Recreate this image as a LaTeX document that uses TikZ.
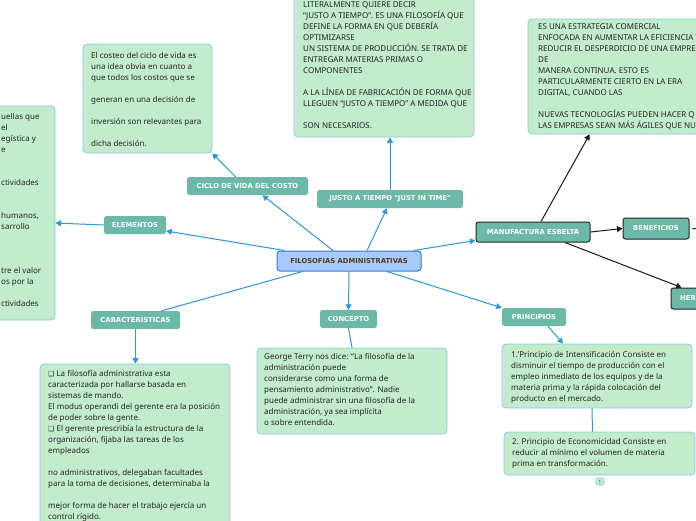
\documentclass[tikz,border=0pt]{standalone}
\usepackage{fontspec}
\setmainfont{Noto Sans}
\newfontfamily\lblfont{DejaVu Sans}
\newfontfamily\symfont{DejaVu Sans}
\usetikzlibrary{arrows.meta,calc}
\definecolor{tealfill}{RGB}{107,185,166}
\definecolor{cardfill}{RGB}{194,236,204}
\definecolor{cardline}{RGB}{140,200,232}
\definecolor{connblue}{RGB}{40,150,225}
\definecolor{centralfill}{RGB}{168,202,250}
\definecolor{centralline}{RGB}{50,120,220}
\definecolor{browntext}{RGB}{90,55,25}
\definecolor{bodytext}{RGB}{35,35,35}
\newcommand{\firststrut}{\rule{0pt}{9pt}}
\newcommand{\boxsym}{{\symfont\fontsize{7}{11}\selectfont ❑}}
\begin{document}
\begin{tikzpicture}[x=1pt,y=-1pt,
  lbl/.style={fill=tealfill, rounded corners=2.5pt, text=white, font=\lblfont\bfseries\fontsize{6.8}{8}\selectfont, inner sep=0pt},
  darklbl/.style={lbl, draw=black!85, line width=1pt},
  card/.style={fill=cardfill, draw=cardline, line width=0.8pt, rounded corners=4pt, inner sep=0pt},
  body/.style={anchor=north west, inner sep=0pt, align=left, font=\fontsize{8}{11}\selectfont, text=bodytext},
  conn/.style={draw=connblue, line width=1pt, -{Triangle[length=5.5pt,width=6pt]}},
  connplain/.style={draw=connblue, line width=1pt},
  bconn/.style={draw=black!90, line width=1pt, -{Triangle[length=5.5pt,width=6pt]}},
]
\useasboundingbox (0,0) rectangle (696,520);
\fill[white] (0,0) rectangle (696,520);

% cards
\node[card, minimum width=129pt, minimum height=109pt] (tl) at (147.5,98.5) {};
\node[card, minimum width=65pt, minimum height=214pt] (lb) at (22.5,213) {};
\node[card, minimum width=180pt, minimum height=147pt] (tc) at (384,63.5) {};
\node[card, minimum width=182pt, minimum height=115pt] (tr) at (619,76.5) {};
\node[card, minimum width=190pt, minimum height=166pt] (bl) at (135,447) {};
\node[card, minimum width=190pt, minimum height=86pt] (bc) at (352,391) {};
\node[card, minimum width=190pt, minimum height=64pt] (p1) at (597,376) {};
\node[card, minimum width=191pt, minimum height=43pt] (p2) at (599.5,453.5) {};
\node[card, rounded corners=1.5pt, line width=0.6pt, minimum width=8pt, minimum height=7pt, font=\fontsize{4.5}{5}\selectfont, text=black!70] (badge) at (600,481.5) {1};

% card texts
\node[body] (tltxt) at (91,49.5) {\firststrut El costeo del ciclo de vida es\\
una idea obvia en cuanto a\\
que todos los costos que se\\[11pt]
generan en una decisión de\\[11pt]
inversión son relevantes para\\[11pt]
dicha decisión.};

\node[body] (lbtxt) at (1,110.5) {\firststrut uellas que\\
el\\
egística y\\
e\\[22pt]
ctividades\\[22pt]
humanos,\\
sarrollo\\[33pt]
tre el valor\\
os por la\\[11pt]
ctividades};

\node[body] (tctxt) at (303,-1.5) {\firststrut LITERALMENTE QUIERE DECIR\\
“JUSTO A TIEMPO”. ES UNA FILOSOFÍA QUE\\
DEFINE LA FORMA EN QUE DEBERÍA\\
OPTIMIZARSE\\
UN SISTEMA DE PRODUCCIÓN. SE TRATA DE\\
ENTREGAR MATERIAS PRIMAS O\\
COMPONENTES\\[11pt]
A LA LÍNEA DE FABRICACIÓN DE FORMA QUE\\
LLEGUEN “JUSTO A TIEMPO” A MEDIDA QUE\\[11pt]
SON NECESARIOS.};

\node[body] (trtxt) at (538,20.5) {\firststrut ES UNA ESTRATEGIA COMERCIAL\\
ENFOCADA EN AUMENTAR LA EFICIENCIA Y\\
REDUCIR EL DESPERDICIO DE UNA EMPRE\\
DE\\
MANERA CONTINUA. ESTO ES\\
PARTICULARMENTE CIERTO EN LA ERA\\
DIGITAL, CUANDO LAS\\[11pt]
NUEVAS TECNOLOGÍAS PUEDEN HACER Q\\
LAS EMPRESAS SEAN MÁS ÁGILES QUE NU};

\node[body] (bltxt) at (48,367.5) {\firststrut\boxsym\ La filosofía administrativa esta\\
caracterizada por hallarse basada en\\
sistemas de mando.\\
El modus operandi del gerente era la posición\\
de poder sobre la gente.\\
\boxsym\ El gerente prescribía la estructura de la\\
organización, fijaba las tareas de los\\
empleados\\[11pt]
no administrativos, delegaban facultades\\
para la toma de decisiones, determinaba la\\[11pt]
mejor forma de hacer el trabajo ejercía un\\
control rígido.};

\node[body] (bctxt) at (264,350.5) {\firststrut George Terry nos dice: “La filosofía de la\\
administración puede\\
considerarse como una forma de\\
pensamiento administrativo”. Nadie\\
puede administrar sin una filosofía de la\\
administración, ya sea implícita\\
o sobre entendida.};

\node[body] (p1txt) at (511,348.5) {\firststrut 1.’Principio de Intensificación Consiste en\\
disminuir el tiempo de producción con el\\
empleo inmediato de los equipos y de la\\
materia prima y la rápida colocación del\\
producto en el mercado.};

\node[body] (p2txt) at (512,435.5) {\firststrut 2. Principio de Economicidad Consiste en\\
reducir al mínimo el volumen de materia\\
prima en transformación.};

% labels
\node[lbl, fill=centralfill, draw=centralline, line width=1pt, rounded corners=3pt, text=browntext, minimum width=144pt, minimum height=20pt] (central) at (349,261) {FILOSOFIAS ADMINISTRATIVAS};
\node[lbl, minimum width=62pt, minimum height=18pt] (elem) at (135,225) {ELEMENTOS};
\node[lbl, minimum width=121pt, minimum height=18pt] (ciclo) at (247.5,186) {CICLO DE VIDA DEL COSTO};
\node[lbl, minimum width=146pt, minimum height=18pt] (justo) at (390,199) {JUSTO A TIEMPO "JUST IN TIME"};
\node[darklbl, minimum width=114pt, minimum height=20pt] (manuf) at (533,232) {MANUFACTURA ESBELTA};
\node[darklbl, minimum width=66pt, minimum height=21pt] (ben) at (656,228.5) {BENEFICIOS};
\node[darklbl, minimum width=64pt, minimum height=21pt] (her) at (703,298.5) {};
\node[lbl, fill=none, anchor=west] (hertxt) at (680,298.5) {HER};
\node[lbl, minimum width=89pt, minimum height=18pt] (caract) at (135.5,320) {CARACTERISTICAS};
\node[lbl, minimum width=57pt, minimum height=18pt] (concepto) at (348.5,319) {CONCEPTO};
\node[lbl, minimum width=64pt, minimum height=18pt] (principios) at (534,317) {PRINCIPIOS};

% connectors
\draw[conn] ([xshift=8pt]central.north west) -- ([yshift=-6pt]elem.east);
\draw[conn] (elem.west) -- ([yshift=-10pt]lb.east);
\draw[conn] ([xshift=-16pt]central.north) -- ([xshift=15pt]ciclo.south);
\draw[conn] ([xshift=-12pt]ciclo.north) -- (tl.south east);
\draw[conn] ([xshift=18pt]central.north) -- ([xshift=-3pt]justo.south);
\draw[conn] (justo.north) -- (justo.north |- tc.south);
\draw[conn] ([xshift=-8pt]central.north east) -- ([yshift=2pt]manuf.south west);
\draw[connplain] ([xshift=26pt]central.south west) -- ([xshift=26pt]caract.north);
\draw[conn] (caract.south) -- (caract.south |- bl.north);
\draw[conn] (central.south) -- (concepto.north);
\draw[connplain] (concepto.south) -- (bc.north);
\draw[conn] ([xshift=38pt]central.south) -- (principios.north west);
\draw[conn] ([xshift=14pt]principios.south) -- ([xshift=-34pt]p1.north);
\draw[connplain] ([xshift=-5pt]p1.south) -- ([xshift=-7pt]p2.north);
\draw[bconn] ([xshift=8pt]manuf.north) -- ([xshift=62pt]tr.south west);
\draw[bconn] (manuf.east) -- (ben.west);
\coordinate (benout) at (700,229);
\draw[draw=black!90, line width=1pt] ([xshift=3pt]ben.east) -- (benout);
\draw[bconn] ([xshift=32pt]manuf.south) -- ([xshift=11pt]her.north west);
\end{tikzpicture}
\end{document}
